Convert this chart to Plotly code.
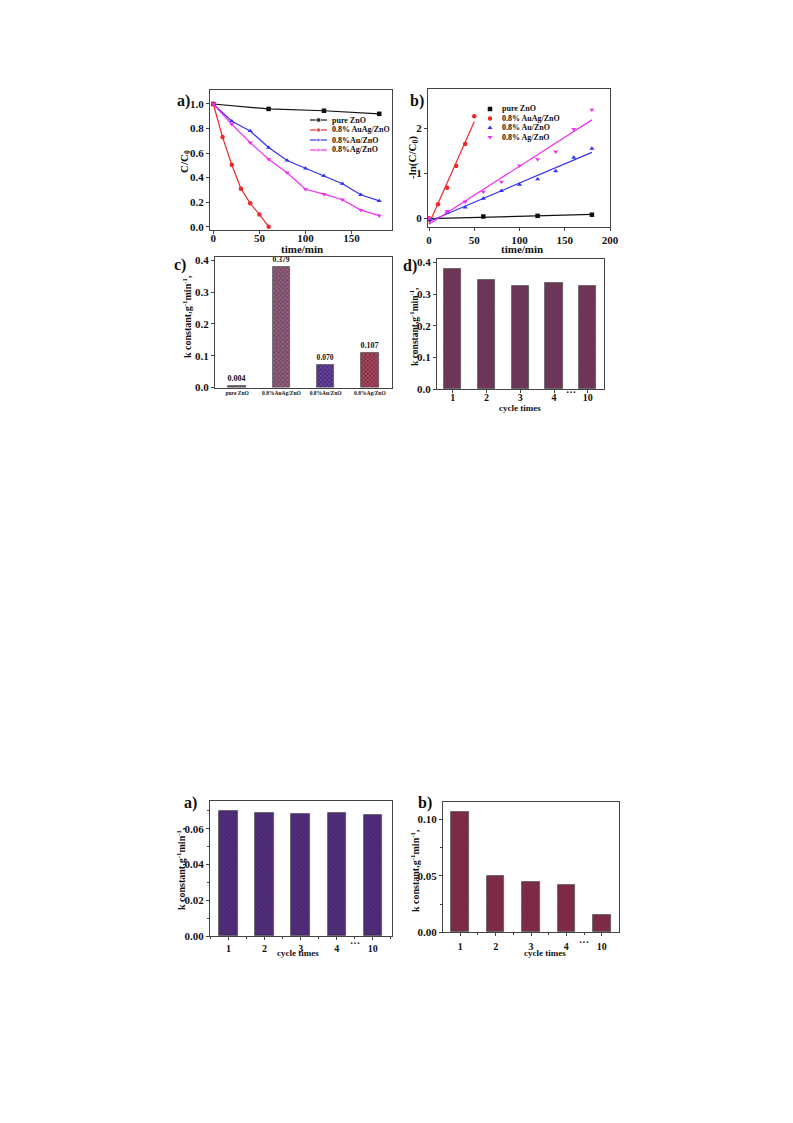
import numpy as np
import plotly.graph_objects as go

W, H = 793, 1123
FONT = "Liberation Serif"

# ---------------- data ----------------
# panel a) C/C0 vs time
t_pure = [0, 60, 120, 180]
c_pure = [1.0, 0.96, 0.945, 0.92]
t_auag = [0, 10, 20, 30, 40, 50, 60]
c_auag = [1.0, 0.73, 0.505, 0.31, 0.19, 0.10, 0.0]
t_au = [0, 20, 40, 60, 80, 100, 120, 140, 160, 180]
c_au = [1.0, 0.86, 0.78, 0.645, 0.54, 0.475, 0.415, 0.35, 0.26, 0.21]
t_ag = [0, 20, 40, 60, 80, 100, 120, 140, 160, 180]
c_ag = [1.0, 0.835, 0.685, 0.55, 0.44, 0.305, 0.265, 0.22, 0.135, 0.09]

# panel b) -ln(C/C0) vs time
lt_pure = [0, 60, 120, 180]
ln_pure = [-0.02, 0.04, 0.055, 0.08]
lt_auag = [0, 10, 20, 30, 40, 50]
ln_auag = [0.0, 0.31, 0.68, 1.16, 1.65, 2.27]
lt_au = [0, 20, 40, 60, 80, 100, 120, 140, 160, 180]
ln_au = [-0.02, 0.13, 0.245, 0.44, 0.61, 0.75, 0.87, 1.05, 1.35, 1.55]
lt_ag = [0, 20, 40, 60, 80, 100, 120, 140, 160, 180]
ln_ag = [0.0, 0.16, 0.37, 0.59, 0.81, 1.17, 1.31, 1.48, 1.98, 2.41]

# panel c) rate constants
c_labels = ["pure ZnO", "0.8%AuAg/ZnO", "0.8%Au/ZnO", "0.8%Ag/ZnO"]
c_k = [0.004, 0.379, 0.070, 0.107]

# cycling panels
cycles = ["1", "2", "3", "4", "10"]
d_k = [0.379, 0.344, 0.325, 0.336, 0.325]      # 0.8% AuAg/ZnO
e_k = [0.0698, 0.0689, 0.0684, 0.0689, 0.0678]  # 0.8% Au/ZnO
f_k = [0.107, 0.050, 0.045, 0.042, 0.015]       # 0.8% Ag/ZnO

series_names_a = ["pure ZnO", "0.8% AuAg/ZnO", "0.8%Au/ZnO", "0.8%Ag/ZnO"]
series_names_b = ["pure ZnO", "0.8% AuAg/ZnO", "0.8% Au/ZnO", "0.8% Ag/ZnO"]
colors = ["#111111", "#f02828", "#3333f0", "#f030f0"]
symbols = ["square", "circle", "triangle-up", "triangle-down"]

# ---------------- helpers ----------------
def dx(x0, x1):
    return [x0 / W, x1 / W]

def dy(ytop, ybot):
    return [1 - ybot / H, 1 - ytop / H]

def px(x):
    return x / W

def py(y):
    return 1 - y / H

AX = dict(showline=True, mirror=True, linecolor="#444", linewidth=1,
          ticks="outside", ticklen=3, tickcolor="#444", showgrid=False,
          zeroline=False, tickfont=dict(size=11))

fig = go.Figure()

# ---------- panel a ----------
for t, c, nm, col, sym in zip([t_pure, t_auag, t_au, t_ag],
                              [c_pure, c_auag, c_au, c_ag],
                              series_names_a, colors, symbols):
    fig.add_trace(go.Scatter(x=t, y=c, mode="lines+markers", name=nm,
                             line=dict(color=col, width=1.2),
                             marker=dict(symbol=sym, size=4.5, color=col),
                             xaxis="x", yaxis="y", showlegend=False))

# ---------- panel b ----------
for t, v, nm, col, sym in zip([lt_pure, lt_auag, lt_au, lt_ag],
                              [ln_pure, ln_auag, ln_au, ln_ag],
                              series_names_b, colors, symbols):
    fig.add_trace(go.Scatter(x=t, y=v, mode="markers", name=nm,
                             marker=dict(symbol=sym, size=4.5, color=col),
                             xaxis="x2", yaxis="y2", showlegend=False))
    k, b = np.polyfit(t, v, 1)
    xs = np.array([t[0], t[-1]], dtype=float)
    fig.add_trace(go.Scatter(x=xs, y=k * xs + b, mode="lines",
                             line=dict(color=col, width=1.2),
                             xaxis="x2", yaxis="y2", showlegend=False,
                             hoverinfo="skip"))

# ---------- bars ----------
def pat(fg):
    return dict(shape="x", size=3, solidity=0.3, fgcolor=fg, fgopacity=0.3,
                fillmode="overlay")

c_cols = ["#6a4a66", "#7a4868", "#4c2a82", "#8e3048"]
c_pats = ["#a888a4", "#9a6888", "#6a50a0", "#b05a6a"]
fig.add_trace(go.Bar(x=list(range(len(c_labels))), y=c_k, width=0.4,
                     marker=dict(color=c_cols, line=dict(color="#555", width=0.8),
                                 pattern=dict(shape="x", size=3, solidity=0.3,
                                              fgcolor=c_pats, fgopacity=0.3,
                                              fillmode="overlay")),
                     text=[f"{v:.3f}" for v in c_k], textposition="outside",
                     textfont=dict(size=10, color="#111"), cliponaxis=False,
                     xaxis="x3", yaxis="y3", showlegend=False))

fig.add_trace(go.Bar(x=list(range(len(cycles))), y=d_k, width=0.51,
                     marker=dict(color="#6a3355", line=dict(color="#555", width=0.8),
                                 pattern=pat("#946282")),
                     xaxis="x4", yaxis="y4", showlegend=False))
fig.add_trace(go.Bar(x=list(range(len(cycles))), y=e_k, width=0.51,
                     marker=dict(color="#4b2873", line=dict(color="#555", width=0.8),
                                 pattern=pat("#72589a")),
                     xaxis="x5", yaxis="y5", showlegend=False))
fig.add_trace(go.Bar(x=list(range(len(cycles))), y=f_k, width=0.5,
                     marker=dict(color="#7a2744", line=dict(color="#555", width=0.8),
                                 pattern=pat("#a2566e")),
                     xaxis="x6", yaxis="y6", showlegend=False))

# ---------- manual legends (pixel overlay axis) ----------
LA = dict(x0=310, x1=327, xt=330, y0=120, dy=10)
for i, (nm, col, sym) in enumerate(zip(series_names_a, colors, symbols)):
    yy = LA["y0"] + i * LA["dy"]
    fig.add_trace(go.Scatter(x=[LA["x0"], (LA["x0"] + LA["x1"]) / 2, LA["x1"]],
                             y=[yy, yy, yy], mode="lines+markers",
                             line=dict(color=col, width=1.2),
                             marker=dict(symbol=sym, size=[0, 4.5, 0], color=col),
                             xaxis="x7", yaxis="y7", showlegend=False,
                             hoverinfo="skip", cliponaxis=False))
LB = dict(xm=490, xt=500, y0=109, dy=9.4)
for i, (nm, col, sym) in enumerate(zip(series_names_b, colors, symbols)):
    yy = LB["y0"] + i * LB["dy"]
    fig.add_trace(go.Scatter(x=[LB["xm"]], y=[yy], mode="markers",
                             marker=dict(symbol=sym, size=4.5, color=col),
                             xaxis="x7", yaxis="y7", showlegend=False,
                             hoverinfo="skip", cliponaxis=False))

annotations = []
for i, nm in enumerate(series_names_a):
    annotations.append(dict(text=nm, x=px(LA["xt"]), y=py(LA["y0"] + i * LA["dy"]),
                            xref="paper", yref="paper", xanchor="left",
                            yanchor="middle", showarrow=False, font=dict(size=8)))
for i, nm in enumerate(series_names_b):
    annotations.append(dict(text=nm, x=px(LB["xt"]), y=py(LB["y0"] + i * LB["dy"]),
                            xref="paper", yref="paper", xanchor="left",
                            yanchor="middle", showarrow=False, font=dict(size=8)))

def ann(text, x, y, size=11, angle=0):
    annotations.append(dict(text=text, x=px(x), y=py(y), xref="paper", yref="paper",
                            xanchor="center", yanchor="middle", showarrow=False,
                            textangle=angle, font=dict(size=size)))

kt = "k constant,g<sup>-1</sup>min<sup>-1</sup>,"
# axis titles
ann("time/min", 302, 249)
ann("C/C<sub>0</sub>", 185, 162, angle=-90)
ann("time/min", 522, 249)
ann("-ln(C/C<sub>0</sub>)", 413, 158, angle=-90)
ann(kt, 187, 317, size=10, angle=-90)
ann(kt, 414, 326, size=9.5, angle=-90)
ann("cycle times", 520, 408, size=9)
ann(kt, 181, 869, size=10, angle=-90)
ann("cycle times", 298, 953, size=9)
ann(kt, 415, 871, size=10, angle=-90)
ann("cycle times", 545, 953, size=9)
# panel labels
ann("a)", 183, 101, size=16)
ann("b)", 417, 101, size=16)
ann("c)", 180, 265, size=16)
ann("d)", 410, 266, size=16)
ann("a)", 190, 803, size=16)
ann("b)", 425, 803, size=16)
# ellipsis between cycle 4 and 10
for xa, ypx in [("x4", 393), ("x5", 943), ("x6", 942)]:
    annotations.append(dict(text="···", x=3.5, y=py(ypx), xref=xa, yref="paper",
                            xanchor="center", yanchor="middle", showarrow=False,
                            font=dict(size=10)))

cyc_ticks = dict(tickmode="array", tickvals=list(range(len(cycles))), ticktext=cycles)
MINX = dict(dtick=0.5, tick0=0, ticks="outside", ticklen=2, tickcolor="#444")

fig.update_layout(
    width=W, height=H, margin=dict(l=0, r=0, t=0, b=0),
    paper_bgcolor="white", plot_bgcolor="rgba(0,0,0,0)", template="none",
    font=dict(family=FONT, size=10, color="#111", weight="bold"),
    showlegend=False, bargap=0,
    xaxis=dict(AX, anchor="y", domain=dx(210, 392), range=[-3.6, 193.8],
               tickvals=[0, 50, 100, 150], ticklabelstandoff=-5),
    yaxis=dict(AX, anchor="x", domain=dy(90, 230), range=[-0.027, 1.114],
               tickvals=[0, 0.2, 0.4, 0.6, 0.8, 1.0], tickformat=".1f"),
    xaxis2=dict(AX, anchor="y2", domain=dx(428, 610), range=[-1.1, 200],
                tickvals=[0, 50, 100, 150, 200]),
    yaxis2=dict(AX, anchor="x2", domain=dy(89, 227), range=[-0.193, 2.873],
                tickvals=[0, 1, 2]),
    xaxis3=dict(AX, anchor="y3", domain=dx(215, 392), range=[-0.5, 3.5], tickmode="array",
                tickvals=list(range(len(c_labels))), ticktext=c_labels,
                tickfont=dict(size=5.5), ticks=""),
    yaxis3=dict(AX, anchor="x3", domain=dy(257, 387.5), range=[0, 0.41],
                tickvals=[0, 0.1, 0.2, 0.3, 0.4], tickformat=".1f"),
    xaxis4=dict(AX, anchor="y4", domain=dx(437, 604), range=[-0.47, 4.48], **cyc_ticks,
                tickfont=dict(size=10), ticklabelstandoff=-4),
    yaxis4=dict(AX, anchor="x4", domain=dy(259, 389.3), range=[0, 0.4104],
                tickvals=[0, 0.1, 0.2, 0.3, 0.4], tickformat=".1f"),
    xaxis5=dict(AX, anchor="y5", domain=dx(210, 392), range=[-0.51, 4.53], **cyc_ticks,
                tickfont=dict(size=10), minor=MINX),
    yaxis5=dict(AX, anchor="x5", domain=dy(801, 936), range=[0, 0.0755],
                tickvals=[0, 0.02, 0.04, 0.06], tickformat=".2f",
                minor=dict(tickvals=[0.01, 0.03, 0.05, 0.07], ticks="outside",
                           ticklen=2, tickcolor="#444")),
    xaxis6=dict(AX, anchor="y6", domain=dx(443, 619), range=[-0.49, 4.49], **cyc_ticks,
                tickfont=dict(size=10), ticklabelstandoff=2, minor=MINX),
    yaxis6=dict(AX, anchor="x6", domain=dy(802, 932.3), range=[0, 0.1156],
                tickvals=[0, 0.05, 0.10], tickformat=".2f",
                minor=dict(tickvals=[0.025, 0.075], ticks="outside",
                           ticklen=2, tickcolor="#444")),
    xaxis7=dict(anchor="y7", domain=[0, 1], range=[0, W], visible=False, fixedrange=True),
    yaxis7=dict(anchor="x7", domain=[0, 1], range=[H, 0], visible=False, fixedrange=True),
    annotations=annotations,
)

fig.write_html("out.html", config={"displayModeBar": False},
               post_script="document.body.style.margin='0px';")
